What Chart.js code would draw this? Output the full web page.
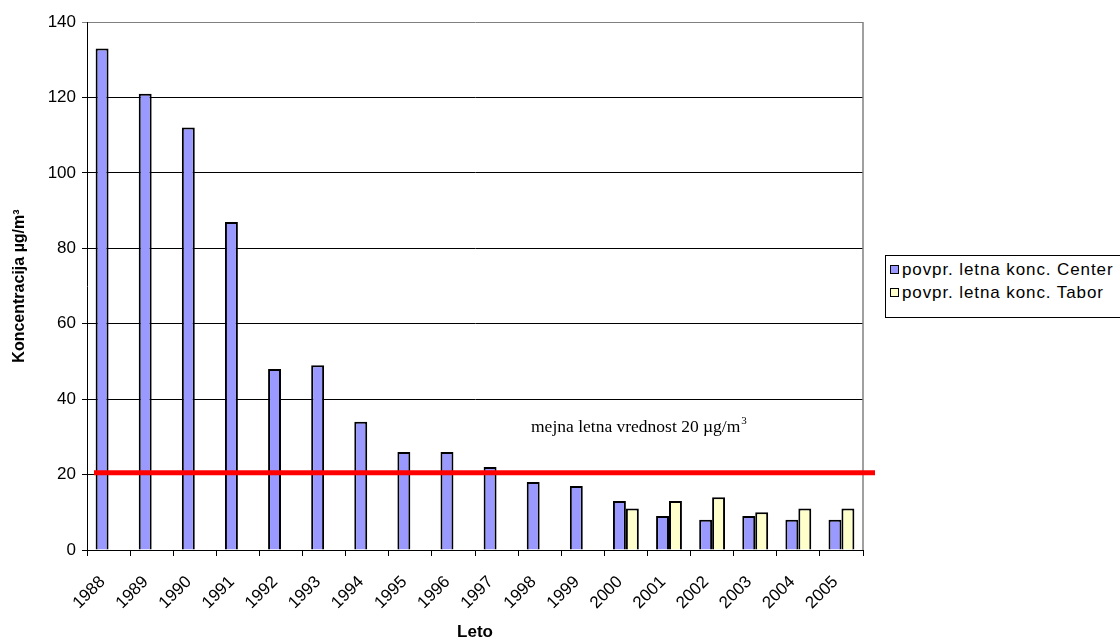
<!DOCTYPE html>
<html>
<head>
<meta charset="utf-8">
<script src="https://cdn.jsdelivr.net/npm/chart.js@4"></script>
<style>
    body { margin: 0; background: #fff; }
    #wrap { position: relative; width: 1120px; height: 641px; overflow: hidden; }
    #legend {
        position: absolute; left: 885px; top: 255px; width: 260px; height: 61px;
        border: 1px solid #000; background: #fff;
        font-family: Arial, "Liberation Sans", sans-serif; font-size: 17px; color: #000;
        letter-spacing: 0.9px;
    }
    .item { position: absolute; left: 4px; height: 18px; line-height: 18px; white-space: nowrap; }
    .item span.sw {
        display: inline-block; width: 7px; height: 7px; border: 1.5px solid #000;
        margin-right: 3px; vertical-align: 1px;
    }
</style>
</head>
<body>
<div id="wrap">
    <canvas id="chart" width="1120" height="641"></canvas>
    <div id="legend">
        <div class="item" style="top:5px"><span class="sw" style="background:#9999FF"></span>povpr. letna konc. Center</div>
        <div class="item" style="top:28px"><span class="sw" style="background:#FFFFCC"></span>povpr. letna konc. Tabor</div>
    </div>
</div>
<script>
// Chart data
const years = ['1988', '1989', '1990', '1991', '1992', '1993', '1994', '1995', '1996',
               '1997', '1998', '1999', '2000', '2001', '2002', '2003', '2004', '2005'];
const centerValues = [133, 121, 112, 87, 48, 49, 34, 26, 26, 22, 18, 17, 13, 9, 8, 9, 8, 8];
const taborValues = [null, null, null, null, null, null, null, null, null, null, null, null,
                     11, 13, 14, 10, 11, 11];
const yTicks = [0, 20, 40, 60, 80, 100, 120, 140];
const limitValue = 20.5;
const limitLabel = 'mejna letna vrednost 20 \u00b5g/m';

const FONT = 'Arial, "Liberation Sans", sans-serif';

// Red limit line, plot border and annotation text
const limitPlugin = {
    id: 'limitLine',
    afterDatasetsDraw(chart) {
        const ctx = chart.ctx;
        const area = chart.chartArea;
        const y = chart.scales.y.getPixelForValue(limitValue);

        ctx.save();
        // gray right border of plot area
        ctx.strokeStyle = '#808080';
        ctx.lineWidth = 1.5;
        ctx.beginPath();
        ctx.moveTo(area.right, area.top);
        ctx.lineTo(area.right, area.bottom);
        ctx.stroke();

        // limit line
        ctx.strokeStyle = '#FF0000';
        ctx.lineWidth = 5;
        ctx.beginPath();
        ctx.moveTo(area.left + 7, y);
        ctx.lineTo(area.right + 12, y);
        ctx.stroke();

        // annotation
        ctx.fillStyle = '#000';
        ctx.font = '17.5px "Liberation Serif", "Times New Roman", serif';
        ctx.textBaseline = 'alphabetic';
        ctx.textAlign = 'left';
        const x0 = 531;
        const yText = chart.scales.y.getPixelForValue(31.3);
        ctx.fillText(limitLabel, x0, yText);
        const w = ctx.measureText(limitLabel).width;
        ctx.font = '11px "Liberation Serif", "Times New Roman", serif';
        ctx.fillText('3', x0 + w + 1, yText - 8);
        ctx.restore();
    }
};

const chart = new Chart(document.getElementById('chart').getContext('2d'), {
    type: 'bar',
    data: {
        labels: years,
        datasets: [{
            label: 'povpr. letna konc. Center',
            data: centerValues,
            backgroundColor: '#9999FF',
            borderColor: '#000',
            borderWidth: 2
        }, {
            label: 'povpr. letna konc. Tabor',
            data: taborValues,
            backgroundColor: '#FFFFCC',
            borderColor: '#000',
            borderWidth: 2
        }]
    },
    options: {
        responsive: false,
        animation: false,
        devicePixelRatio: 1,
        layout: { padding: { top: 22, right: 257, left: 0, bottom: 0 } },
        datasets: {
            bar: { categoryPercentage: 0.6, barPercentage: 1.0 }
        },
        plugins: {
            legend: { display: false },
            tooltip: { enabled: false }
        },
        scales: {
            x: {
                afterFit(scale) { scale.height = 91; },
                grid: {
                    offset: true,
                    drawOnChartArea: false,
                    color: '#000',
                    tickLength: 6
                },
                border: { color: '#000', width: 1 },
                ticks: {
                    color: '#000',
                    font: { family: FONT, size: 17 },
                    minRotation: 45,
                    maxRotation: 45,
                    padding: 16,
                    labelOffset: -6
                },
                title: {
                    display: true,
                    text: 'Leto',
                    color: '#000',
                    font: { family: FONT, size: 17, weight: 'bold' },
                    padding: { top: 0, bottom: -2 }
                }
            },
            y: {
                min: 0,
                max: 140,
                afterFit(scale) { scale.width = 87; },
                afterBuildTicks(scale) { scale.ticks = yTicks.map(v => ({ value: v })); },
                grid: {
                    color: ctx => (ctx.tick && ctx.tick.value === 140 ? '#808080' : '#000'),
                    lineWidth: 1,
                    tickLength: 5
                },
                border: { color: '#000', width: 1 },
                ticks: {
                    color: '#000',
                    font: { family: FONT, size: 17 },
                    padding: 6
                },
                title: {
                    display: true,
                    text: 'Koncentracija \u00b5g/m\u00b3',
                    color: '#000',
                    font: { family: FONT, size: 16, weight: 'bold' },
                    padding: { top: 10, bottom: 4 }
                }
            }
        }
    },
    plugins: [limitPlugin]
});
</script>
</body>
</html>
